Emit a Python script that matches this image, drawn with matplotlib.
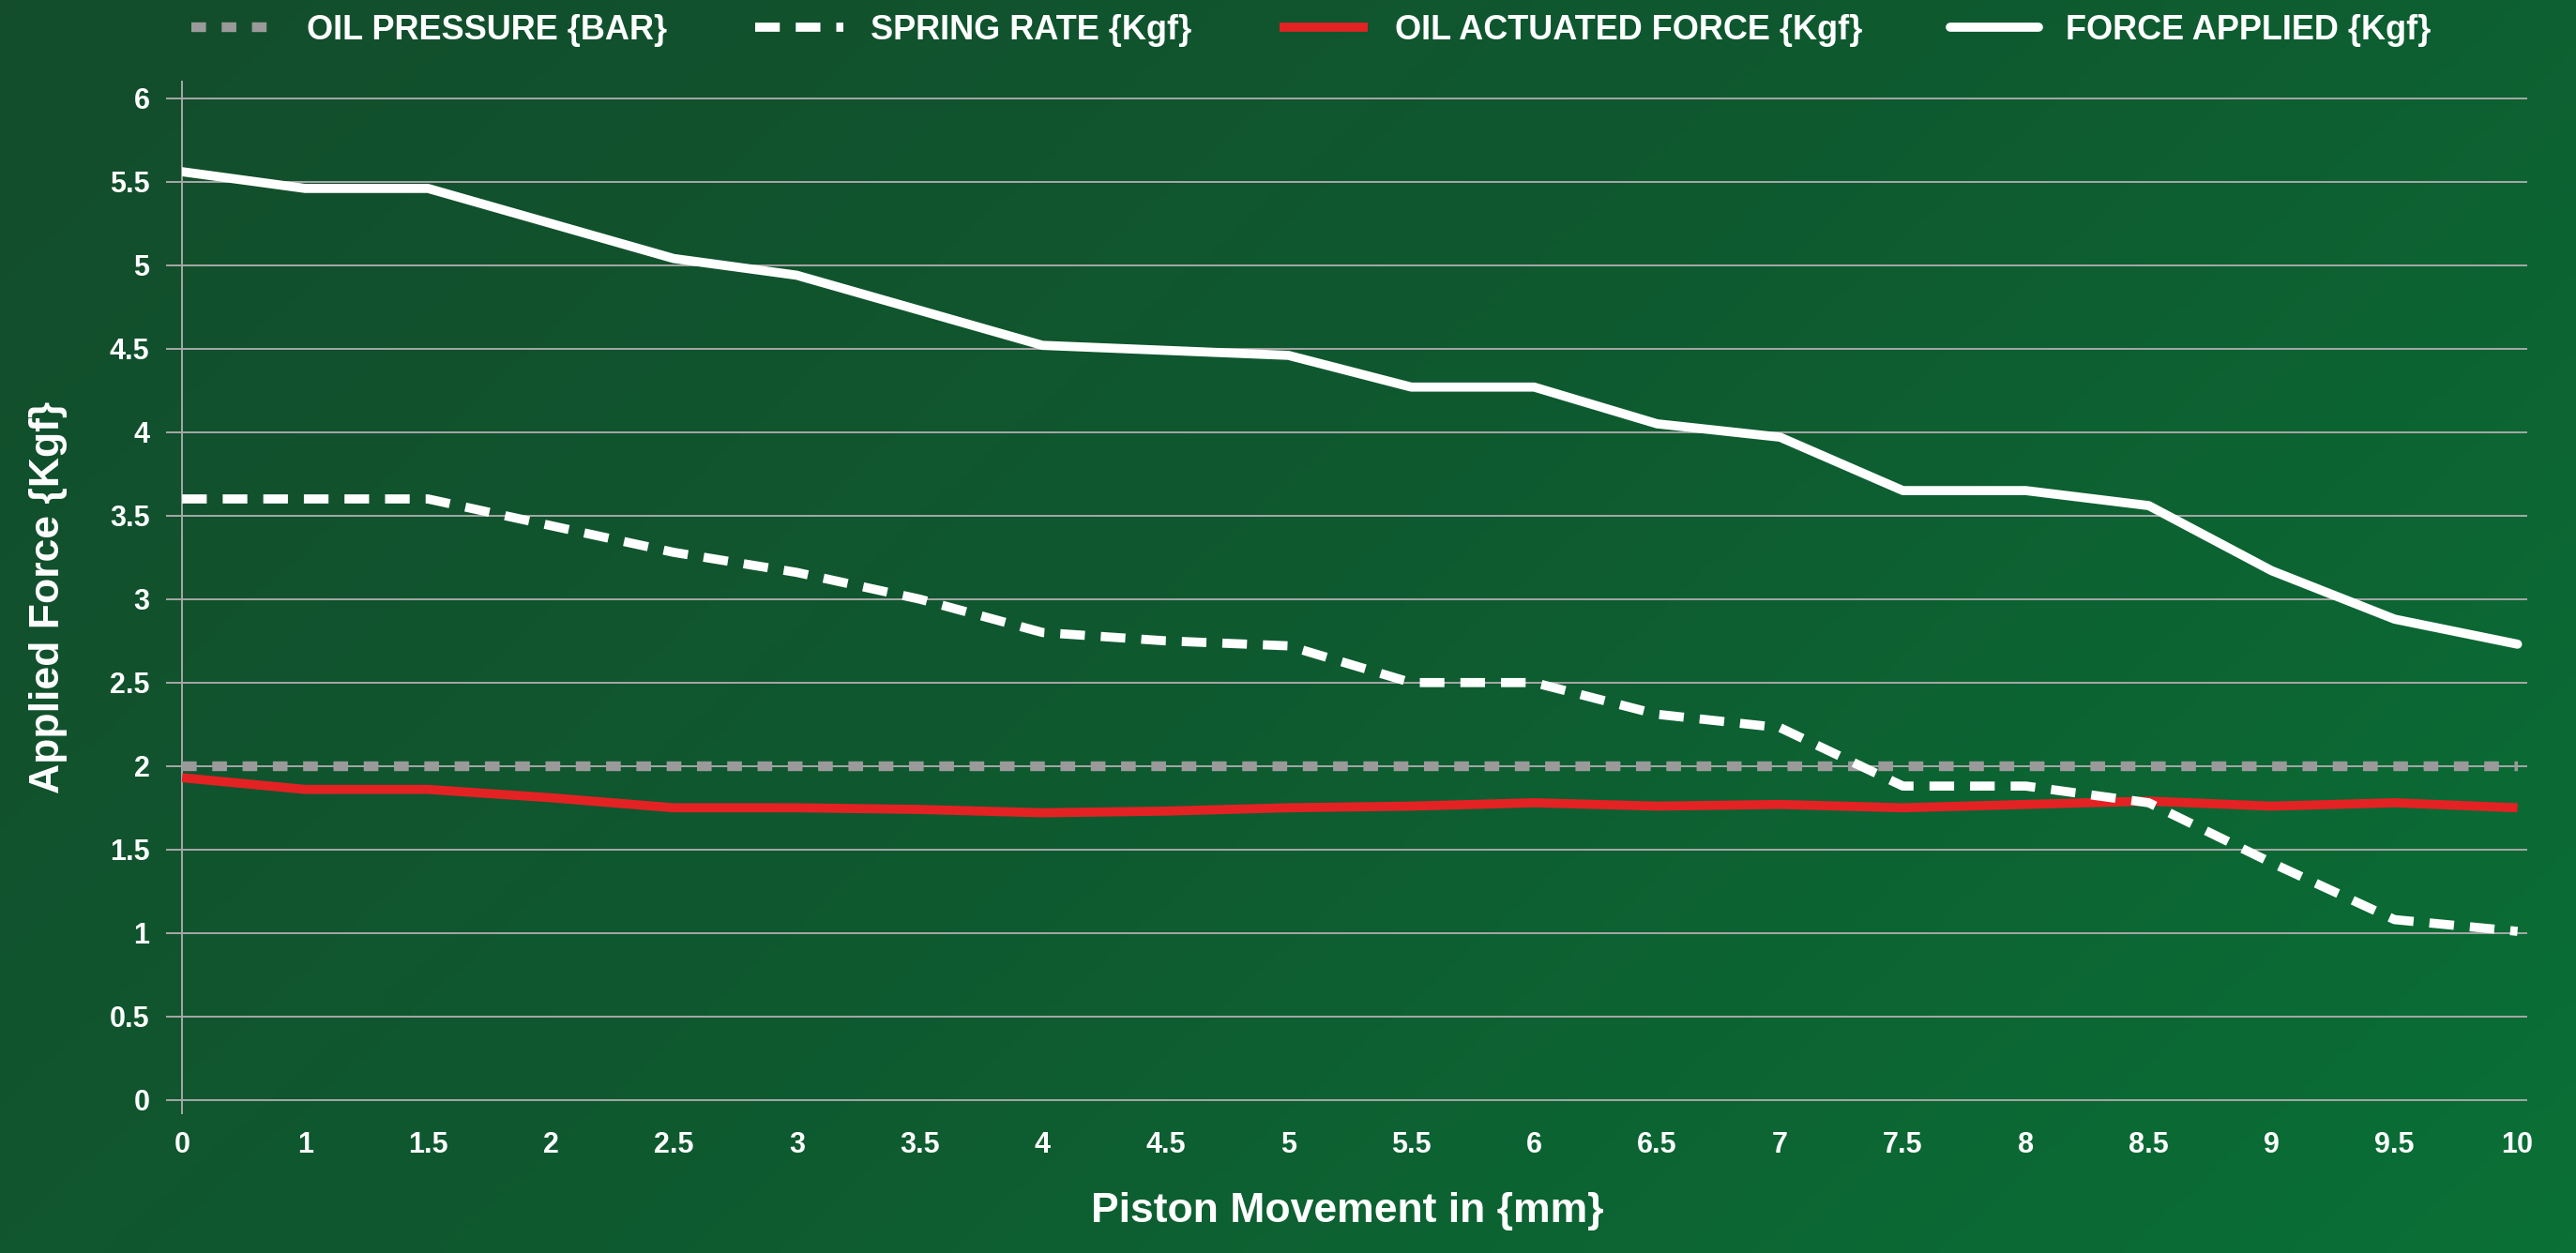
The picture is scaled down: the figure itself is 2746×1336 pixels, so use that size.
import numpy as np
import matplotlib
matplotlib.use('Agg')
import matplotlib.pyplot as plt
from matplotlib.colors import LinearSegmentedColormap

plt.rcParams['font.family'] = ['Liberation Sans', 'DejaVu Sans']
plt.rcParams['font.weight'] = 'bold'

# data
x_labels = ['0', '1', '1.5', '2', '2.5', '3', '3.5', '4', '4.5', '5',
            '5.5', '6', '6.5', '7', '7.5', '8', '8.5', '9', '9.5', '10']
oil_pressure = [2.0, 2.0, 2.0, 2.0, 2.0, 2.0, 2.0, 2.0, 2.0, 2.0,
                2.0, 2.0, 2.0, 2.0, 2.0, 2.0, 2.0, 2.0, 2.0, 2.0]
spring_rate = [3.6, 3.6, 3.6, 3.44, 3.28, 3.16, 3.0, 2.8, 2.75, 2.72,
               2.5, 2.5, 2.31, 2.23, 1.88, 1.88, 1.78, 1.42, 1.08, 1.01]
oil_force = [1.93, 1.86, 1.86, 1.81, 1.75, 1.75, 1.74, 1.72, 1.73, 1.75,
             1.76, 1.78, 1.76, 1.77, 1.75, 1.77, 1.79, 1.76, 1.78, 1.75]
force_applied = [5.56, 5.46, 5.46, 5.25, 5.04, 4.94, 4.73, 4.52, 4.49, 4.46,
                 4.27, 4.27, 4.05, 3.97, 3.65, 3.65, 3.56, 3.17, 2.88, 2.73]

fig = plt.figure(figsize=(27.46, 13.36), dpi=100)

# green gradient background
bg = fig.add_axes([0, 0, 1, 1], zorder=-10)
gx, gy = np.meshgrid(np.linspace(0, 1, 400), np.linspace(0, 1, 200))
grad = 0.65 * gx + 0.35 * gy
green = LinearSegmentedColormap.from_list('g', ['#134d2c', '#0f5a30', '#0a7036'])
bg.imshow(grad, cmap=green, aspect='auto', extent=[0, 1, 0, 1], origin='upper')
bg.axis('off')

ax = fig.add_axes([0.0707, 0.1115, 0.9104, 0.8234])
ax.patch.set_alpha(0)
x = np.arange(len(x_labels))

ax.plot(x, oil_pressure, color='#9a9a9a', lw=7.5, dashes=(1.5, 1.6),
        solid_capstyle='butt', dash_capstyle='butt', label='OIL PRESSURE {BAR}', zorder=3)
ax.plot(x, oil_force, color='#e32224', lw=7, solid_capstyle='butt',
        label='OIL ACTUATED FORCE {Kgf}', zorder=4)
ax.plot(x, spring_rate, color='white', lw=7, dashes=(2.7, 1.75),
        dash_capstyle='butt', label='SPRING RATE {Kgf}', zorder=5)
ax.plot(x, force_applied, color='white', lw=7, solid_capstyle='round',
        label='FORCE APPLIED {Kgf}', zorder=6)

ax.set_xlim(0, 19.08)
ax.set_ylim(-0.08, 6.1)
ax.set_yticks(np.arange(0, 6.01, 0.5))
ax.set_yticklabels(['0', '0.5', '1', '1.5', '2', '2.5', '3', '3.5', '4', '4.5', '5', '5.5', '6'])
ax.set_xticks(x)
ax.set_xticklabels(x_labels)
ax.grid(axis='y', color='#a8a8a8', lw=1.4)
ax.set_axisbelow(True)
for s in ['top', 'right', 'bottom']:
    ax.spines[s].set_visible(False)
ax.spines['left'].set_color('#a8a8a8')
ax.spines['left'].set_linewidth(1.4)
ax.tick_params(axis='y', colors='white', labelsize=22, length=12, width=1.4,
               color='#a8a8a8', pad=13)
ax.tick_params(axis='x', colors='white', labelsize=22, length=0, pad=14)

ax.set_ylabel('Applied Force {Kgf}', color='white', fontsize=32, fontweight='bold')
ax.yaxis.set_label_coords(-0.049, 0.5)
fig.text(0.523, 0.018, 'Piston Movement in {mm}', color='white', fontsize=32,
         fontweight='bold', ha='center', va='bottom')

h, l = ax.get_legend_handles_labels()
order = [0, 2, 1, 3]
leg = fig.legend([h[i] for i in order], [l[i] for i in order], loc='center',
                 bbox_to_anchor=(0.509, 0.976), ncol=4, frameon=False,
                 fontsize=26, handlelength=2.6, handletextpad=0.8, columnspacing=2.6)
for t in leg.get_texts():
    t.set_color('white')
    t.set_fontweight('bold')

fig.savefig('out.png', dpi=100)
